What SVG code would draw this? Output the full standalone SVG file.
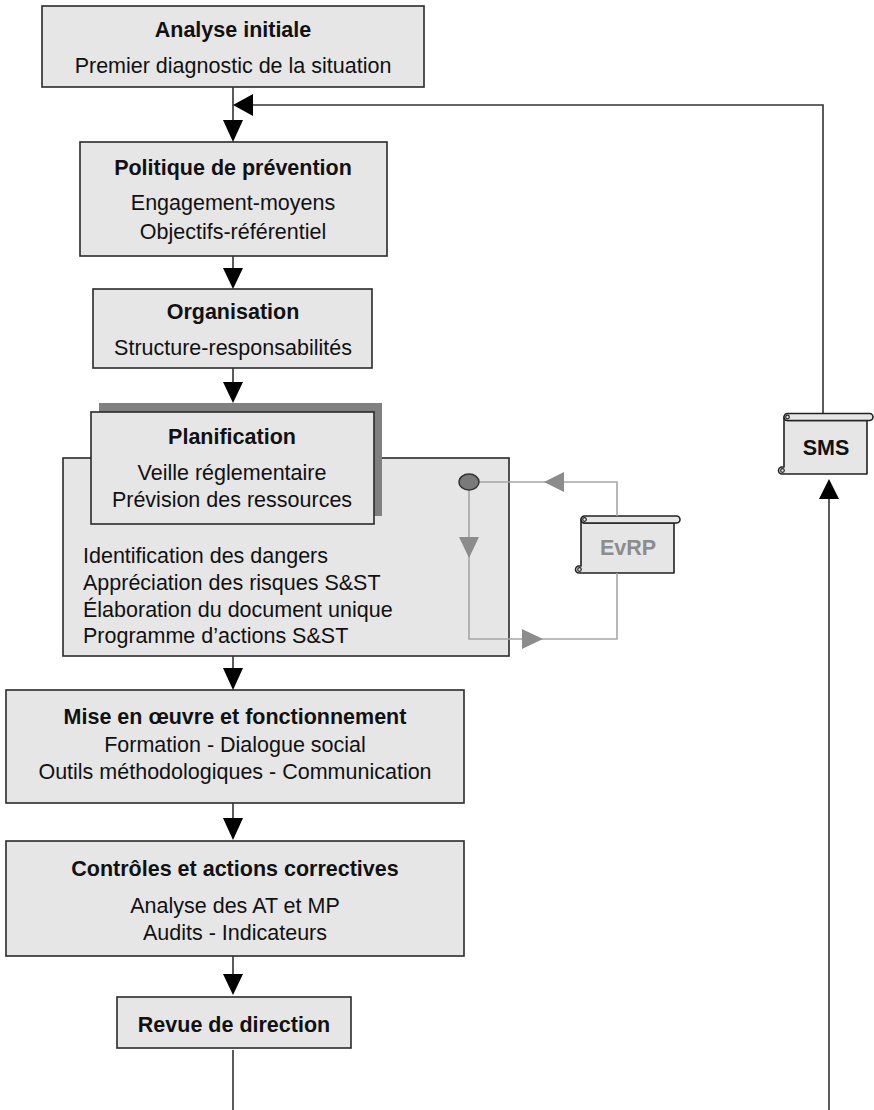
<svg xmlns="http://www.w3.org/2000/svg" width="874" height="1110" viewBox="0 0 874 1110">
<style>
  .box { fill: #e6e6e6; stroke: #2a2a2a; stroke-width: 1.6; }
  .shadow { fill: #808080; stroke: none; }
  text { font-family: "Liberation Sans", Arial, sans-serif; font-size: 21.5px; fill: #111; }
  .b { font-weight: bold; }
  .c { text-anchor: middle; }
  .line { fill: none; stroke: #333; stroke-width: 1.6; }
  .head { fill: #000; stroke: none; }
  .gline { fill: none; stroke: #a6a6a6; stroke-width: 1.6; }
  .ghead { fill: #8c8c8c; stroke: none; }
  .scroll { fill: #e6e6e6; stroke: #222; stroke-width: 1.6; stroke-linejoin: round; }
  .gtext { fill: #8c8c8c; font-weight: bold; }
</style>

<g id="analyse">
  <rect class="box" x="42" y="6" width="382" height="81"/>
  <text class="b c" x="233" y="37">Analyse initiale</text>
  <text class="c" x="233" y="73">Premier diagnostic de la situation</text>
</g>

<g id="politique">
  <rect class="box" x="80" y="142" width="307" height="114"/>
  <text class="b c" x="233" y="175">Politique de prévention</text>
  <text class="c" x="233" y="210">Engagement-moyens</text>
  <text class="c" x="233" y="239">Objectifs-référentiel</text>
</g>

<g id="organisation">
  <rect class="box" x="93" y="289" width="279" height="79"/>
  <text class="b c" x="233" y="319">Organisation</text>
  <text class="c" x="233" y="355">Structure-responsabilités</text>
</g>

<g id="planification">
  <rect class="box" x="63" y="458" width="446" height="198"/>
  <rect class="shadow" x="99" y="403" width="283" height="113"/>
  <rect class="box" x="91" y="412" width="283" height="112"/>
  <text class="b c" x="232" y="444">Planification</text>
  <text class="c" x="232" y="480">Veille réglementaire</text>
  <text class="c" x="232" y="507">Prévision des ressources</text>
  <text x="83" y="563">Identification des dangers</text>
  <text x="83" y="590">Appréciation des risques S&amp;ST</text>
  <text x="83" y="617">Élaboration du document unique</text>
  <text x="83" y="643">Programme d’actions S&amp;ST</text>
</g>

<g id="evrp">
  <path class="scroll" d="M581,519.5 A3.5,3.5 0 0 0 584.5,523 L674,523 L674,573 L579,573 A3.5,3.5 0 0 1 579,566 L581,566 Z"/>
  <path class="scroll" d="M584.5,516 L676.5,516 A3.5,3.5 0 0 1 676.5,523 L584.5,523 A3.5,3.5 0 0 1 584.5,516 Z"/>
  <circle cx="584.5" cy="519.5" r="1.8" fill="none" stroke="#222" stroke-width="1.2"/>
  <circle cx="579.5" cy="569.5" r="1.8" fill="none" stroke="#222" stroke-width="1.2"/>
  <text class="c gtext" x="628" y="555">EvRP</text>
</g>

<g id="sms">
  <path class="scroll" d="M784,417 A3.5,3.5 0 0 0 787.5,420.5 L867,420.5 L867,474 L782,474 A3.5,3.5 0 0 1 782,467 L784,467 Z"/>
  <path class="scroll" d="M787.5,413.5 L869.5,413.5 A3.5,3.5 0 0 1 869.5,420.5 L787.5,420.5 A3.5,3.5 0 0 1 787.5,413.5 Z"/>
  <circle cx="787.5" cy="417" r="1.8" fill="none" stroke="#222" stroke-width="1.2"/>
  <circle cx="782.5" cy="470.5" r="1.8" fill="none" stroke="#222" stroke-width="1.2"/>
  <text class="b c" x="826" y="455">SMS</text>
</g>

<g id="mise">
  <rect class="box" x="6" y="690" width="458" height="113"/>
  <text class="b c" x="235" y="724">Mise en œuvre et fonctionnement</text>
  <text class="c" x="235" y="752">Formation - Dialogue social</text>
  <text class="c" x="235" y="779">Outils méthodologiques - Communication</text>
</g>

<g id="controles">
  <rect class="box" x="6" y="841" width="458" height="115"/>
  <text class="b c" x="235" y="876">Contrôles et actions correctives</text>
  <text class="c" x="235" y="913">Analyse des AT et MP</text>
  <text class="c" x="235" y="940">Audits - Indicateurs</text>
</g>

<g id="revue">
  <rect class="box" x="117" y="997" width="234" height="51"/>
  <text class="b c" x="234" y="1032">Revue de direction</text>
</g>

<g id="connectors">
  <!-- main vertical flow -->
  <line class="line" x1="233" y1="87" x2="233" y2="122"/>
  <polygon class="head" points="223,120 243,120 233,142"/>
  <line class="line" x1="233" y1="256" x2="233" y2="270"/>
  <polygon class="head" points="223,268 243,268 233,289"/>
  <line class="line" x1="233" y1="368" x2="233" y2="384"/>
  <polygon class="head" points="223,382 243,382 233,403"/>
  <line class="line" x1="233" y1="656" x2="233" y2="670"/>
  <polygon class="head" points="223,668 243,668 233,690"/>
  <line class="line" x1="233" y1="803" x2="233" y2="820"/>
  <polygon class="head" points="223,818 243,818 233,840"/>
  <line class="line" x1="233" y1="956" x2="233" y2="976"/>
  <polygon class="head" points="223,974 243,974 233,995"/>
  <line class="line" x1="233" y1="1050" x2="233" y2="1110"/>
  <!-- feedback loop via SMS -->
  <line class="line" x1="829" y1="1110" x2="829" y2="497"/>
  <polygon class="head" points="819,499 839,499 829,479"/>
  <polyline class="line" points="823,413 823,105 251,105"/>
  <polygon class="head" points="253,94 253,116 233,105"/>
  <!-- EvRP loop -->
  <polyline class="gline" points="479,482 617,482 617,516"/>
  <polygon class="ghead" points="564,472 564,492 544,482"/>
  <polyline class="gline" points="469,490 469,639 617,639 617,573"/>
  <polygon class="ghead" points="459,537 479,537 469,558"/>
  <polygon class="ghead" points="522,629 522,649 543,639"/>
  <ellipse cx="469" cy="482" rx="10" ry="8" fill="#7a7a7a" stroke="#333" stroke-width="1.4"/>
</g>
</svg>
